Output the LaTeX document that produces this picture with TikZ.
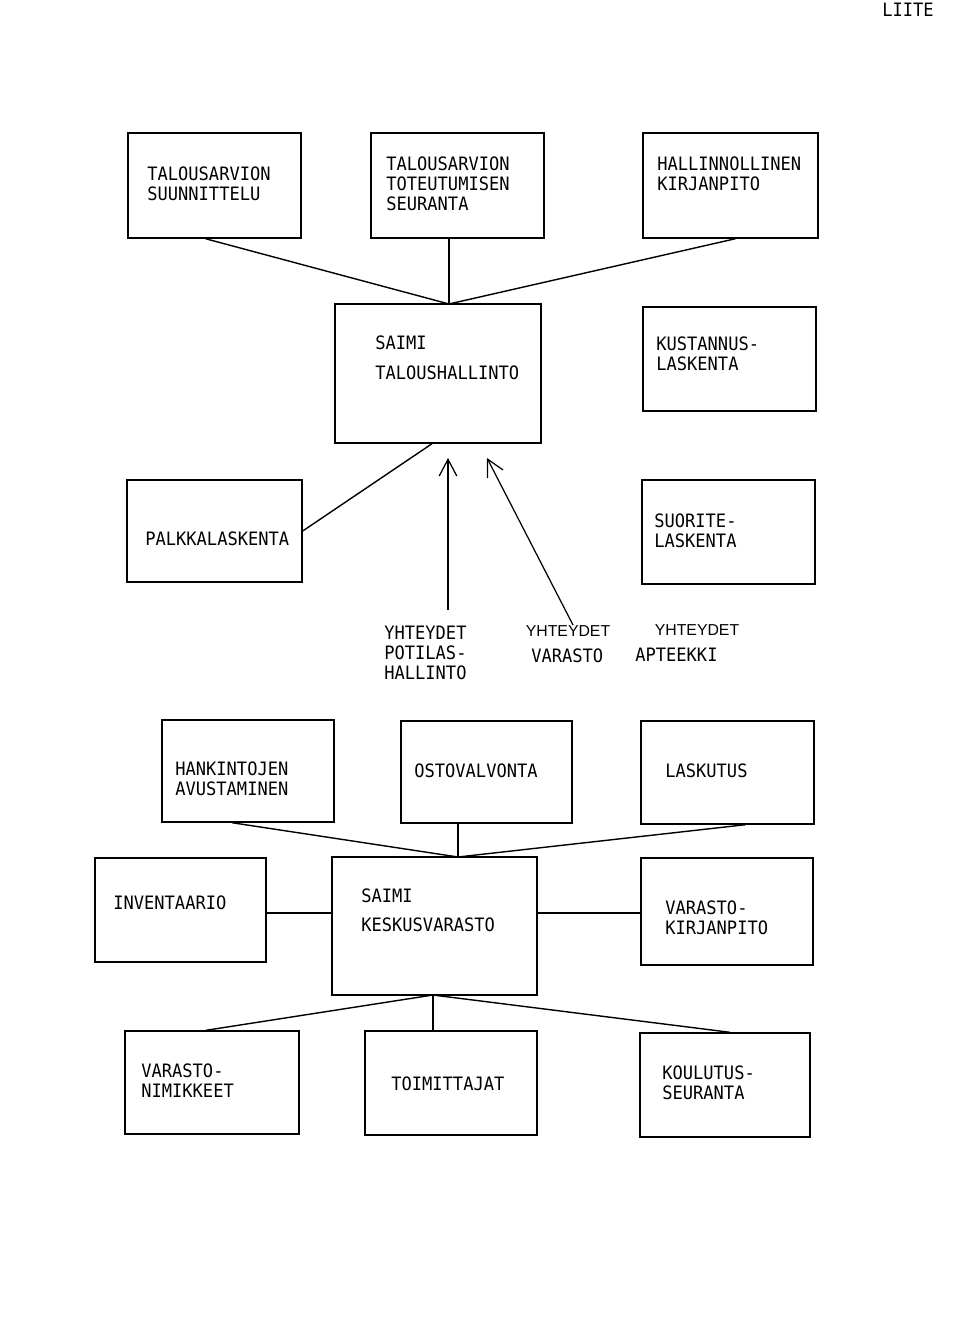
\documentclass[tikz,border=0pt]{standalone}
\usepackage{fontspec}
\newfontfamily\tw[FakeStretch=0.925]{DejaVu Sans Mono}
\newfontfamily\hand{Liberation Sans}
\usetikzlibrary{fit,calc,arrows.meta}
\begin{document}
\begin{tikzpicture}[x=0.02cm,y=-0.02cm,
  box/.style={draw,line width=0.8pt,inner sep=0pt},
  lbl/.style={anchor=north west,inner sep=0pt,align=left,font=\tw\fontsize{10.5}{11.4}\selectfont},
  hw/.style={inner sep=0pt,font=\hand\fontsize{9}{10}\selectfont},
  link/.style={line width=0.8pt},
  arr/.style={line width=0.7pt,-{Straight Barb[length=9.5pt,width=10pt,line width=0.7pt]}}]
\useasboundingbox (0,0) rectangle (960,1341);
\fill[white] (0,0) rectangle (960,1341);

% header
\node[lbl] (liite) at (882,3) {LIITE};

% top row
\node[box,fit={(128,133) (301,238)}] (b1) {};
\node[box,fit={(371,133) (544,238)}] (b2) {};
\node[box,fit={(643,133) (818,238)}] (b3) {};
\node[lbl] (t1) at (147,166) {TALOUSARVION\\SUUNNITTELU};
\node[lbl] (t2) at (386,156) {TALOUSARVION\\TOTEUTUMISEN\\SEURANTA};
\node[lbl] (t3) at (657,156) {HALLINNOLLINEN\\KIRJANPITO};

% SAIMI taloushallinto
\node[box,fit={(335,304) (541,443)}] (saimi) {};
\node[lbl] (tsaimi) at (375,335) {SAIMI\\[6.2pt]TALOUSHALLINTO};
\node[box,fit={(643,307) (816,411)}] (kust) {};
\node[lbl] (tkust) at (656,336) {KUSTANNUS-\\LASKENTA};

\coordinate (j1) at (449,304);
\draw[link] ($(b1.south)+(-9,0)$) -- (j1);
\draw[link] (j1 |- b2.south) -- (j1);
\draw[link] ($(b3.south)+(5,0)$) -- (j1);

% middle row
\node[box,fit={(127,480) (302,582)}] (palk) {};
\node[lbl] (tpalk) at (145,531) {PALKKALASKENTA};
\node[box,fit={(642,480) (815,584)}] (suor) {};
\node[lbl] (tsuor) at (654,513) {SUORITE-\\LASKENTA};
\draw[link] (palk.east) -- ($(saimi.south)+(-6,0)$);

% external links
\node[lbl] (tpot) at (384,626) {YHTEYDET\\POTILAS-\\HALLINTO};
\node[lbl] (tvar) at (531,648) {VARASTO};
\node[lbl] (tapt) at (635,648) {APTEEKKI};
\node[hw] (hw1) at (568,631) {YHTEYDET};
\node[hw] (hw2) at (697,630) {YHTEYDET};
\coordinate (a1s) at (448,610);
\coordinate (a1e) at (448,458);
\coordinate (a2s) at (573,625);
\coordinate (a2e) at (487,458);
\draw[arr] (a1s) -- (a1e);
\draw[arr] (a2s) -- (a2e);

% keskusvarasto section
\node[box,fit={(162,720) (334,822)}] (hank) {};
\node[lbl] (thank) at (175,761) {HANKINTOJEN\\AVUSTAMINEN};
\node[box,fit={(401,721) (572,823)}] (osto) {};
\node[lbl] (tosto) at (414,763) {OSTOVALVONTA};
\node[box,fit={(641,721) (814,824)}] (lask) {};
\node[lbl] (tlask) at (665,763) {LASKUTUS};

\node[box,fit={(95,858) (266,962)}] (inv) {};
\node[lbl] (tinv) at (113,895) {INVENTAARIO};
\node[box,fit={(332,857) (537,995)}] (kesk) {};
\node[lbl] (tkesk) at (361,888) {SAIMI\\[5.6pt]KESKUSVARASTO};
\node[box,fit={(641,858) (813,965)}] (vk) {};
\node[lbl] (tvk) at (665,900) {VARASTO-\\KIRJANPITO};

\coordinate (j2) at (458,857);
\coordinate (hl) at (0,913);
\draw[link] ($(hank.south)+(-16,0)$) -- (j2);
\draw[link] (j2 |- osto.south) -- (j2);
\draw[link] ($(lask.south)+(18,0)$) -- (j2);
\draw[link] (inv.east |- hl) -- (kesk.west |- hl);
\draw[link] (kesk.east |- hl) -- (vk.west |- hl);

% bottom row
\node[box,fit={(125,1031) (299,1134)}] (vn) {};
\node[lbl] (tvn) at (141,1063) {VARASTO-\\NIMIKKEET};
\node[box,fit={(365,1031) (537,1135)}] (toim) {};
\node[lbl] (ttoim) at (391,1076) {TOIMITTAJAT};
\node[box,fit={(640,1033) (810,1137)}] (koul) {};
\node[lbl] (tkoul) at (662,1065) {KOULUTUS-\\SEURANTA};

\coordinate (j3) at (433,995);
\draw[link] (j3) -- ($(vn.north)+(-6,0)$);
\draw[link] (j3) -- (j3 |- toim.north);
\draw[link] (j3) -- ($(koul.north)+(5,0)$);
\end{tikzpicture}
\end{document}
